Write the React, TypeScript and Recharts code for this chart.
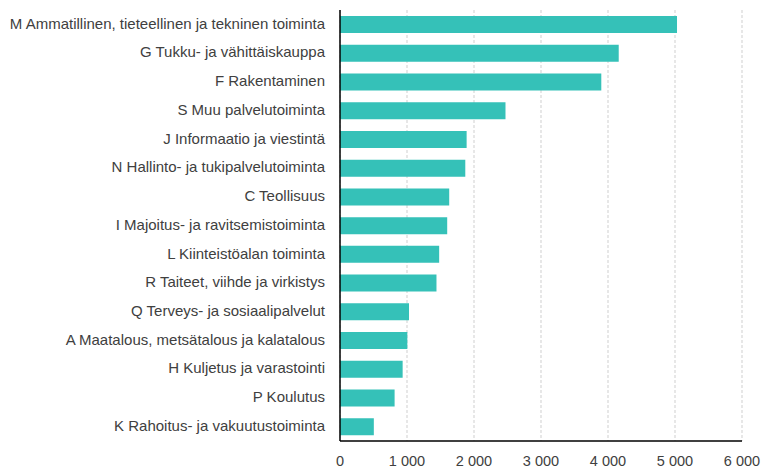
import React from "react";
import { BarChart, Bar, XAxis, YAxis, CartesianGrid } from "recharts";

const categories = [
  "M Ammatillinen, tieteellinen ja tekninen toiminta",
  "G Tukku- ja vähittäiskauppa",
  "F Rakentaminen",
  "S Muu palvelutoiminta",
  "J Informaatio ja viestintä",
  "N Hallinto- ja tukipalvelutoiminta",
  "C Teollisuus",
  "I Majoitus- ja ravitsemistoiminta",
  "L Kiinteistöalan toiminta",
  "R Taiteet, viihde ja virkistys",
  "Q Terveys- ja sosiaalipalvelut",
  "A Maatalous, metsätalous ja kalatalous",
  "H Kuljetus ja varastointi",
  "P Koulutus",
  "K Rahoitus- ja vakuutustoiminta",
];

const values = [5030, 4160, 3900, 2470, 1890, 1870, 1630, 1600, 1480, 1440, 1030, 1005, 935, 815, 505];

const xTicks = [0, 1000, 2000, 3000, 4000, 5000, 6000];

const data = categories.map((name, i) => ({ name, value: values[i] }));

const fmt = (v: number) => (v >= 1000 ? `${Math.floor(v / 1000)} ${String(v % 1000).padStart(3, "0")}` : String(v));

const font = "'Liberation Sans', Arial, sans-serif";

export default function App() {
  return (
    <div style={{ position: "absolute", left: 0, top: 0, width: 762, height: 471, background: "#fff" }}>
      <BarChart
        width={762}
        height={471}
        data={data}
        layout="vertical"
        margin={{ top: 10, right: 20, bottom: 0, left: 0 }}
        barSize={17}
      >
        <CartesianGrid horizontal={false} vertical={true} stroke="#cfcfcf" strokeDasharray="3 2" />
        <XAxis
          type="number"
          domain={[0, 6000]}
          ticks={xTicks}
          tickFormatter={fmt}
          axisLine={{ stroke: "#000", strokeWidth: 1.5 }}
          tickLine={false}
          tickSize={0}
          tickMargin={15}
          height={30}
          interval={0}
          tick={{ fill: "#404040", fontSize: 14.5, fontFamily: font }}
        />
        <YAxis
          type="category"
          dataKey="name"
          width={340}
          axisLine={{ stroke: "#000", strokeWidth: 1.5 }}
          tickLine={false}
          tickSize={0}
          tickMargin={15}
          interval={0}
          tick={{ fill: "#404040", fontSize: 15, fontFamily: font, dy: -1 }}
        />
        <Bar dataKey="value" fill="#35C1B8" isAnimationActive={false} />
      </BarChart>
    </div>
  );
}
